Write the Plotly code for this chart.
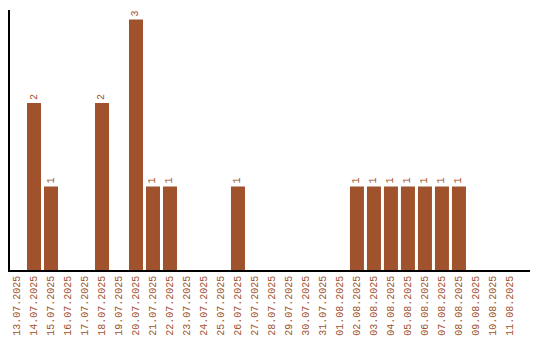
import plotly.graph_objects as go

dates = ["13.07.2025","14.07.2025","15.07.2025","16.07.2025","17.07.2025","18.07.2025",
         "19.07.2025","20.07.2025","21.07.2025","22.07.2025","23.07.2025","24.07.2025",
         "25.07.2025","26.07.2025","27.07.2025","28.07.2025","29.07.2025","30.07.2025",
         "31.07.2025","01.08.2025","02.08.2025","03.08.2025","04.08.2025","05.08.2025",
         "06.08.2025","07.08.2025","08.08.2025","09.08.2025","10.08.2025","11.08.2025"]
counts = [0,2,1,0,0,2,0,3,1,1,0,0,0,1,0,0,0,0,0,0,1,1,1,1,1,1,1,0,0,0]

color = "#A0522D"
labels = [str(v) if v > 0 else "" for v in counts]

fig = go.Figure(go.Bar(
    x=dates, y=counts, marker_color=color, marker_line_width=0,
    text=labels, textposition="outside", textangle=-90,
    textfont=dict(family="Liberation Mono", size=10, color=color),
    cliponaxis=False,
))
fig.update_layout(
    width=540, height=340,
    margin=dict(l=10, r=10, t=10, b=70, autoexpand=False),
    paper_bgcolor="white", plot_bgcolor="white",
    bargap=0.176, showlegend=False,
    font=dict(family="Liberation Mono", size=10, color=color),
)
fig.update_xaxes(type="category", tickangle=-90, showline=True, linecolor="black",
                 linewidth=1.5, ticks="", showgrid=False, automargin=False,
                 range=[-0.412, 30.18],
                 tickfont=dict(family="Liberation Mono", size=10, color=color))
fig.update_yaxes(range=[0, 3.114], showline=True, linecolor="black", linewidth=1.5,
                 showticklabels=False, ticks="", showgrid=False, zeroline=False,
                 automargin=False)
fig.write_html("out.html")
